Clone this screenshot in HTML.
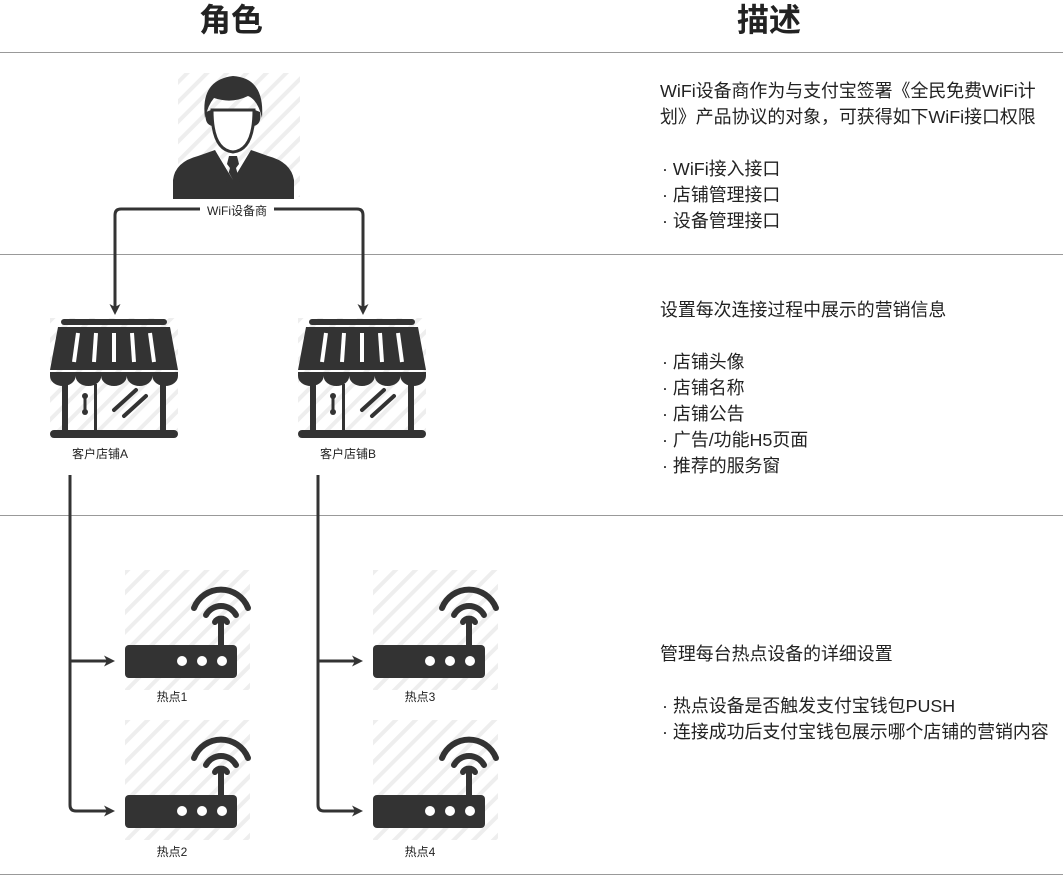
<!DOCTYPE html>
<html><head><meta charset="utf-8"><style>
html,body{margin:0;padding:0;background:#fff;}
svg{display:block;}
text{font-family:"Liberation Sans","Noto Sans CJK SC",sans-serif;fill:#222;}
.d{font-size:17.9px;}
.s{font-size:12px;}
</style></head><body>
<svg width="1063" height="879" viewBox="0 0 1063 879" xmlns="http://www.w3.org/2000/svg">
<defs>
<pattern id="h" width="14" height="14" patternUnits="userSpaceOnUse" patternTransform="rotate(45)">
<rect width="14" height="14" fill="#fff"/><rect width="4" height="14" fill="#eeeeee"/>
</pattern>
<g id="store">
<rect x="0" y="0" width="128" height="120" fill="url(#h)"/>
<rect x="11" y="1" width="106" height="6" rx="3" fill="#333"/>
<path d="M8 9 H120 L128 52 H0 Z" fill="#333"/>
<g stroke="#fff" stroke-width="4"><line x1="28" y1="15" x2="24" y2="44"/><line x1="46" y1="15" x2="44" y2="44"/><line x1="64" y1="15" x2="64" y2="44"/><line x1="82" y1="15" x2="84" y2="44"/><line x1="100" y1="15" x2="104" y2="44"/></g>
<path d="M0 54 H128 V58 A12.8 10 0 0 1 102.4 58 A12.8 10 0 0 1 76.8 58 A12.8 10 0 0 1 51.2 58 A12.8 10 0 0 1 25.6 58 A12.8 10 0 0 1 0 58 Z" fill="#333"/>
<rect x="12" y="66" width="6" height="48" fill="#333"/>
<rect x="110" y="66" width="6" height="48" fill="#333"/>
<rect x="44" y="66" width="3" height="48" fill="#333"/>
<line x1="35" y1="78" x2="35" y2="94" stroke="#333" stroke-width="3" stroke-linecap="round"/>
<circle cx="35" cy="78" r="3" fill="#333"/><circle cx="35" cy="94" r="3" fill="#333"/>
<g stroke="#333" stroke-width="4" stroke-linecap="round"><line x1="64" y1="92" x2="86" y2="72"/><line x1="74" y1="98" x2="96" y2="78"/></g>
<rect x="0" y="112" width="128" height="8" rx="4" fill="#333"/>
</g>
<g id="router">
<rect x="0" y="0" width="125" height="120" fill="url(#h)"/>
<path d="M69 38 A29 29 0 0 1 123 38" fill="none" stroke="#333" stroke-width="6" stroke-linecap="round"/>
<path d="M81 45 A17 17 0 0 1 111 45" fill="none" stroke="#333" stroke-width="6" stroke-linecap="round"/>
<path d="M90 52 A7 7 0 0 1 102 52" fill="none" stroke="#333" stroke-width="6" stroke-linecap="round"/>
<rect x="93" y="50" width="6" height="28" fill="#333"/>
<rect x="0" y="75" width="112" height="33" rx="4" fill="#333"/>
<circle cx="57" cy="91" r="5" fill="#fff"/><circle cx="77" cy="91" r="5" fill="#fff"/><circle cx="97" cy="91" r="5" fill="#fff"/>
</g>
<marker id="ar" markerWidth="11" markerHeight="11" refX="8" refY="5.5" orient="auto" markerUnits="userSpaceOnUse"><path d="M0 0 L11 5.5 L0 11 L3 5.5Z" fill="#333"/></marker>
</defs>

<text x="231" y="31" font-size="32" font-weight="bold" text-anchor="middle">角色</text>
<text x="769" y="31" font-size="32" font-weight="bold" text-anchor="middle">描述</text>
<g stroke="#999" stroke-width="1">
<line x1="0" y1="52.5" x2="1063" y2="52.5"/><line x1="0" y1="254.5" x2="1063" y2="254.5"/>
<line x1="0" y1="515.5" x2="1063" y2="515.5"/><line x1="0" y1="874.5" x2="1063" y2="874.5"/>
</g>

<!-- person -->
<rect x="178" y="73" width="122" height="124" fill="url(#h)"/>
<path d="M173 199 L173 180 Q175 162 198 156 L215 150 L233 180 L251 150 L268 156 Q291 162 294 180 L294 199 Z" fill="#333"/>
<path d="M229 156 L237 156 L239 164 L236 168 L240 182 L233 190 L226 182 L230 168 L227 164 Z" fill="#333"/>
<path d="M215 150 L233 180 L222 160 Z" fill="#fff"/>
<path d="M212 110 Q212 150 233 152 Q254 150 254 110 Z" fill="#fff" stroke="#333" stroke-width="3"/>
<path d="M205 118 Q200 80 233 76 Q265 78 262 118 Q258 100 248 96 Q232 104 214 98 Q208 105 205 118 Z" fill="#333"/>
<path d="M206 112 Q204 124 212 126 L211 110 Z M260 112 Q262 124 254 126 L255 110Z" fill="#333"/>

<path d="M200 209 H121 Q115 209 115 215 V312" fill="none" stroke="#333" stroke-width="3" marker-end="url(#ar)"/>
<path d="M274 209 H357 Q363 209 363 215 V312" fill="none" stroke="#333" stroke-width="3" marker-end="url(#ar)"/>
<text x="237" y="215" class="s" text-anchor="middle">WiFi设备商</text>

<use href="#store" x="50" y="318"/>
<use href="#store" x="298" y="318"/>
<text x="100" y="458" class="s" text-anchor="middle">客户店铺A</text>
<text x="348" y="458" class="s" text-anchor="middle">客户店铺B</text>

<g fill="none" stroke="#333" stroke-width="3">
<path d="M70 475 V805 Q70 811 76 811 H112" marker-end="url(#ar)"/>
<path d="M70 661 H112" marker-end="url(#ar)"/>
<path d="M318 475 V805 Q318 811 324 811 H360" marker-end="url(#ar)"/>
<path d="M318 661 H360" marker-end="url(#ar)"/>
</g>
<use href="#router" x="125" y="570"/>
<use href="#router" x="373" y="570"/>
<use href="#router" x="125" y="720"/>
<use href="#router" x="373" y="720"/>
<text x="172" y="701" class="s" text-anchor="middle">热点1</text>
<text x="420" y="701" class="s" text-anchor="middle">热点3</text>
<text x="172" y="856" class="s" text-anchor="middle">热点2</text>
<text x="420" y="856" class="s" text-anchor="middle">热点4</text>

<g>
<text x="660" y="97" class="d">WiFi设备商作为与支付宝签署《全民免费WiFi计</text>
<text x="660" y="123" class="d">划》产品协议的对象，可获得如下WiFi接口权限</text>
<text x="662" y="175" class="d">· WiFi接入接口</text>
<text x="662" y="201" class="d">· 店铺管理接口</text>
<text x="662" y="227" class="d">· 设备管理接口</text>
<text x="660" y="316" class="d">设置每次连接过程中展示的营销信息</text>
<text x="662" y="368" class="d">· 店铺头像</text>
<text x="662" y="394" class="d">· 店铺名称</text>
<text x="662" y="420" class="d">· 店铺公告</text>
<text x="662" y="446" class="d">· 广告/功能H5页面</text>
<text x="662" y="472" class="d">· 推荐的服务窗</text>
<text x="660" y="660" class="d">管理每台热点设备的详细设置</text>
<text x="662" y="712" class="d">· 热点设备是否触发支付宝钱包PUSH</text>
<text x="662" y="738" class="d">· 连接成功后支付宝钱包展示哪个店铺的营销内容</text>
</g>
</svg>
</body></html>
